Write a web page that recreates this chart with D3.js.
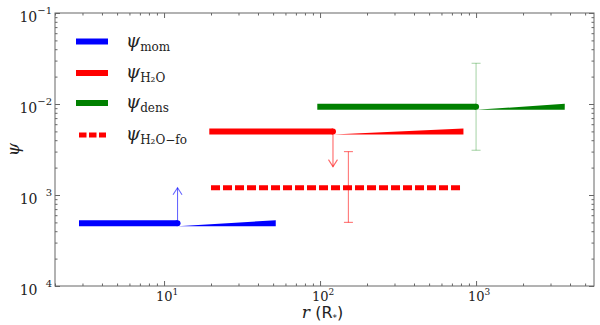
<!DOCTYPE html>
<html><head><meta charset="utf-8">
<script src="https://cdn.jsdelivr.net/npm/d3@7"></script>
<style>
body{margin:0;background:#fff;}
</style></head>
<body><svg id="c" width="600" height="325"></svg>
<script>
// ---- data ----
const xDomain = [2, 5700];
const yDomain = [1e-4, 1e-1];
const xMajor = [10, 100, 1000];
const xMajorExp = ["1", "2", "3"];
const yMajor = [1e-4, 1e-3, 1e-2, 1e-1];
const yMajorExp = ["\u2002 4", "\u2002 3", "\u22122", "\u22121"];

const legendNames = ["mom", "H\u2082O", "dens", "H\u2082O\u2212fo"];
const seriesColors = ["#0000ff", "#ff0000", "#008000", "#ff0000"];

// solid series: [start r, break r, end r], psi
const momR = [2.85, 12.2, 52];  const momPsi = 4.9e-4;
const h2oR = [19.5, 121, 830];  const h2oPsi = 5.0e-3;
const densR = [96, 1000, 3700]; const densPsi = 9.3e-3;
// dashed series
const foR = [20, 800];          const foPsi = 1.2e-3;
// limit arrows: [r, from psi, to psi]
const momLimit = [12.2, 4.9e-4, 1.2e-3];
const h2oLimit = [121, 5.0e-3, 2.05e-3];
// error bars: [r, low, high]
const foErr = [152, 5.0e-4, 3.0e-3];
const densErr = [1000, 3.1e-3, 2.8e-2];

// ---- layout ----
const SERIF = "'DejaVu Serif','Liberation Serif',serif";
const SANS = "'DejaVu Sans','Liberation Sans',sans-serif";
const L = 55, R = 594, T = 13, B = 286;
const svg = d3.select("#c");
const x = d3.scaleLog().domain(xDomain).range([L, R]);
const y = d3.scaleLog().domain(yDomain).range([B, T]);

function minors(dom){
  const out=[];
  for(let e=Math.floor(Math.log10(dom[0])); e<=Math.ceil(Math.log10(dom[1])); e++){
    for(let m=2;m<=9;m++){const v=m*Math.pow(10,e); if(v>=dom[0]&&v<=dom[1]) out.push(v);}
  }
  return out;
}
const axisColor="#666";

svg.append("rect").attr("x",L).attr("y",T).attr("width",R-L).attr("height",B-T)
  .attr("fill","none").attr("stroke",axisColor).attr("stroke-width",1);

function drawAxis(gen, tx, ty){
  const g = svg.append("g").attr("transform",`translate(${tx},${ty})`).call(gen);
  g.select(".domain").remove();
  g.selectAll("line").attr("stroke",axisColor);
  g.selectAll("text").remove();
  return g;
}
drawAxis(d3.axisBottom(x).tickValues(xMajor).tickSizeInner(-5).tickSizeOuter(0),0,B);
drawAxis(d3.axisBottom(x).tickValues(minors(xDomain)).tickSizeInner(-2.5).tickSizeOuter(0),0,B);
drawAxis(d3.axisTop(x).tickValues(xMajor).tickSizeInner(-5).tickSizeOuter(0),0,T);
drawAxis(d3.axisTop(x).tickValues(minors(xDomain)).tickSizeInner(-2.5).tickSizeOuter(0),0,T);
drawAxis(d3.axisLeft(y).tickValues(yMajor).tickSizeInner(-5).tickSizeOuter(0),L,0);
drawAxis(d3.axisLeft(y).tickValues(minors(yDomain)).tickSizeInner(-2.5).tickSizeOuter(0),L,0);
drawAxis(d3.axisRight(y).tickValues(yMajor).tickSizeInner(-5).tickSizeOuter(0),R,0);
drawAxis(d3.axisRight(y).tickValues(minors(yDomain)).tickSizeInner(-2.5).tickSizeOuter(0),R,0);

xMajor.forEach((v,i)=>{
  const t=svg.append("text").attr("x",x(v)+3).attr("y",B+15).attr("text-anchor","middle")
    .attr("font-family",SERIF).attr("font-size",13).attr("fill","#222");
  t.append("tspan").text("10");
  t.append("tspan").attr("dy",-6).attr("font-size",9).text(xMajorExp[i]);
});
yMajor.forEach((v,i)=>{
  const t=svg.append("text").attr("x",52).attr("y",y(v)+9).attr("text-anchor","end")
    .attr("font-family",SERIF).attr("font-size",14).attr("fill","#222").attr("xml:space","preserve");
  t.append("tspan").text("10");
  t.append("tspan").attr("dy",-8).attr("font-size",10).text(yMajorExp[i]);
});

svg.append("text").attr("transform",`translate(19,${(T+B)/2}) rotate(-90)`)
  .attr("text-anchor","middle").attr("font-family",SERIF).attr("font-size",17).attr("font-style","italic").attr("fill","#222").text("\u03c8");
const xl=svg.append("text").attr("x",(L+R)/2-2).attr("y",318).attr("text-anchor","middle")
  .attr("font-family",SANS).attr("font-size",16).attr("fill","#222");
xl.append("tspan").attr("font-family",SERIF).attr("font-style","italic").attr("font-size",17).text("r ");
xl.append("tspan").text("(R");
xl.append("tspan").attr("font-size",9).attr("dy",3).text("*");
xl.append("tspan").attr("dy",-3).text(")");

const plot = svg.append("g");
const lw = 6;

function errBar(e, color, op){
  const g=plot.append("g").attr("stroke",color).attr("stroke-opacity",op).attr("stroke-width",1.2);
  g.append("line").attr("x1",x(e[0])).attr("x2",x(e[0])).attr("y1",y(e[1])).attr("y2",y(e[2]));
  [e[1],e[2]].forEach(v=>g.append("line").attr("x1",x(e[0])-4.5).attr("x2",x(e[0])+4.5).attr("y1",y(v)).attr("y2",y(v)));
}
errBar(densErr,"#008000",0.3);
errBar(foErr,"#ff0000",0.5);

function solid(rs, psi, color){
  const yc=y(psi);
  plot.append("polygon")
    .attr("points",[[x(rs[1]),yc+lw/2],[x(rs[2]),yc-lw/2],[x(rs[2]),yc+lw/2]].map(p=>p.join(",")).join(" "))
    .attr("fill",color);
  plot.append("line").attr("x1",x(rs[0])).attr("x2",x(rs[1])).attr("y1",yc).attr("y2",yc)
    .attr("stroke",color).attr("stroke-width",lw);
  plot.append("circle").attr("cx",x(rs[1])).attr("cy",yc).attr("r",lw/2).attr("fill",color);
}
solid(momR,momPsi,seriesColors[0]);
solid(h2oR,h2oPsi,seriesColors[1]);
solid(densR,densPsi,seriesColors[2]);

plot.append("line").attr("x1",x(foR[0])).attr("x2",x(foR[1])).attr("y1",y(foPsi)).attr("y2",y(foPsi))
  .attr("stroke",seriesColors[3]).attr("stroke-width",5).attr("stroke-dasharray","9,3");

function arrow(a,color,op){
  const xx=x(a[0]), y0=y(a[1]), y1=y(a[2]);
  const dir = y1<y0 ? 1 : -1;
  const g=plot.append("g").attr("stroke",color).attr("stroke-opacity",op).attr("stroke-width",1.1).attr("fill","none");
  g.append("line").attr("x1",xx).attr("x2",xx).attr("y1",y0).attr("y2",y1);
  g.append("path").attr("d",`M${xx-4.5},${y1+dir*7}L${xx},${y1}L${xx+4.5},${y1+dir*7}`);
}
arrow(momLimit,"#0000ff",0.6);
arrow(h2oLimit,"#ff0000",0.6);

const legY=[41.5,73,103,135];
legendNames.forEach((n,i)=>{
  const g=svg.append("g");
  if(i<3){
    g.append("line").attr("x1",76).attr("x2",108).attr("y1",legY[i]).attr("y2",legY[i])
      .attr("stroke",seriesColors[i]).attr("stroke-width",lw);
  } else {
    g.append("line").attr("x1",79).attr("x2",106).attr("y1",legY[i]).attr("y2",legY[i])
      .attr("stroke",seriesColors[i]).attr("stroke-width",5).attr("stroke-dasharray","7.5,2.5");
  }
  const t=g.append("text").attr("x",126).attr("y",legY[i]+5).attr("font-family",SERIF).attr("font-size",18).attr("fill","#222");
  t.append("tspan").attr("font-style","italic").text("\u03c8");
  t.append("tspan").attr("dy",4).attr("font-size",12).text(n);
});
</script></body></html>
